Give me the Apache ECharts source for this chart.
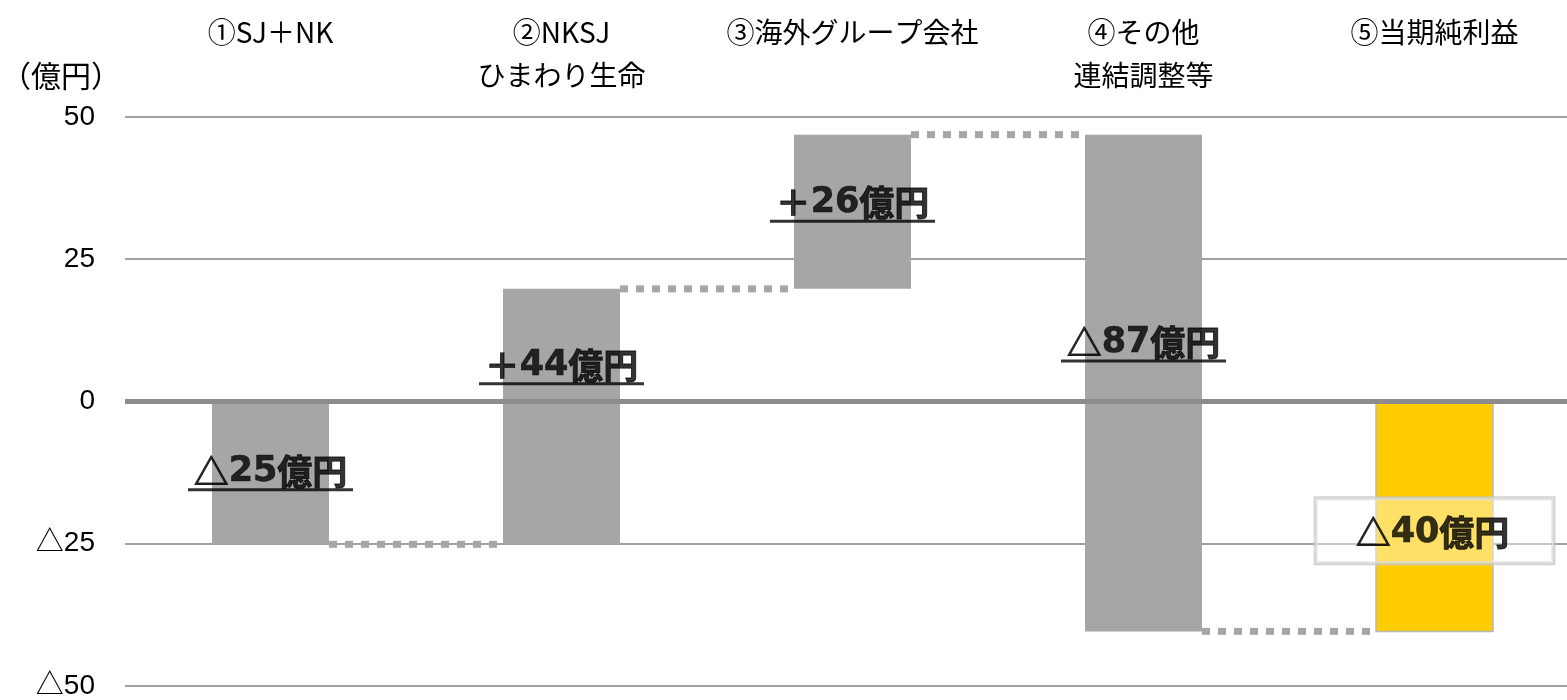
<!DOCTYPE html>
<html>
<head>
<meta charset="utf-8">
<script src="https://cdn.jsdelivr.net/npm/echarts@6/dist/echarts.min.js"></script>
<style>
html,body{margin:0;padding:0;background:#fff;overflow:hidden;width:1567px;height:700px;}
#chart{width:1580px;height:700px;}
</style>
</head>
<body>
<div id="chart"></div>
<script>
// ---- data ----
const categories = ['①SJ＋NK', '②NKSJ\nひまわり生命', '③海外グループ会社', '④その他\n連結調整等', '⑤当期純利益'];
const changes = [-25.1, 44.9, 27.1, -87.3];          // step changes (億円)
const totalValue = -40.4;                              // ⑤ 当期純利益
const valueLabels = ['△25億円', '＋44億円', '＋26億円', '△87億円', '△40億円'];
const labelAnchors = [-12.6, 6.0, 34.6, 10.0, -22.7];  // label centre level (億円)
const yTicks = { min: -50, max: 50, interval: 25 };

// ---- build ranges ----
const ranges = [];
let cum = 0;
changes.forEach((d, i) => {
  const start = cum;
  cum = +(cum + d).toFixed(1);
  ranges.push([i, start, cum]);
});
ranges.push([changes.length, 0, totalValue]);

const chart = echarts.init(document.getElementById('chart'));
const CJK = '"Noto Sans CJK JP"';

function richText(s) {
  // digits in a wide latin face, the rest in the CJK face
  let out = '', cur = '', type = null;
  for (const ch of s) {
    const t = /[0-9]/.test(ch) ? 'd' : 'k';
    if (t !== type && cur) { out += '{' + type + '|' + cur + '}'; cur = ''; }
    type = t; cur += ch;
  }
  if (cur) out += '{' + type + '|' + cur + '}';
  return out;
}

function renderItem(params, api) {
  const i = api.value(0);
  const a = api.value(1), b = api.value(2);
  const p1 = api.coord([i, a]);
  const p2 = api.coord([i, b]);
  const band = api.size([1, 0])[0];
  const w = band * 0.402;
  const x = p1[0] - w / 2;
  const top = Math.min(p1[1], p2[1]);
  const h = Math.abs(p1[1] - p2[1]);
  const isTotal = i === categories.length - 1;
  const children = [{
    type: 'rect',
    shape: { x: x, y: top, width: w, height: h },
    style: isTotal ? { fill: '#ffcc00', stroke: '#b8b8b8', lineWidth: 1.5 }
                   : { fill: '#a6a6a6' }
  }];
  if (!isTotal) {
    const y = p2[1];
    children.push({
      type: 'line',
      shape: { x1: x + w, y1: y, x2: x + band, y2: y },
      style: { stroke: '#a6a6a6', lineWidth: 7, lineDash: [8, 8], lineCap: 'butt' }
    });
  }
  return { type: 'group', children: children };
}

const FS = 35;
const richStyles = {
  k: { fontSize: FS, fontWeight: 'bold', color: '#000', lineHeight: 33, fontFamily: CJK,
       textBorderColor: '#000', textBorderWidth: 0.9 },
  d: { fontSize: FS, fontWeight: 'bold', color: '#000', lineHeight: 33, fontFamily: '"DejaVu Sans"',
       textBorderColor: '#000', textBorderWidth: 0.6 },
  u: { width: 165, height: 3, lineHeight: 3, backgroundColor: '#000', align: 'center' }
};

const labelData = labelAnchors.map((v, i) => {
  const last = i === categories.length - 1;
  return {
    value: [i, v],
    label: last ? {
      formatter: richText(valueLabels[i]),
      backgroundColor: 'rgba(255,255,255,0.5)',
      borderColor: '#c8c8c8', borderWidth: 2,
      padding: [18, 44, 14, 40]
    } : {
      formatter: richText(valueLabels[i]) + '\n{u|}'
    }
  };
});

const option = {
  animation: false,
  backgroundColor: '#fff',
  title: {
    text: '（億円）', left: -4, top: 56,
    textStyle: { fontSize: 30, fontWeight: 'normal', color: '#000', fontFamily: CJK }
  },
  grid: { left: 125, top: 117, width: 1455, height: 569 },
  xAxis: {
    type: 'category', position: 'top', data: categories,
    axisLine: { show: false }, axisTick: { show: false },
    axisLabel: {
      interval: 0, fontSize: 28, color: '#000', lineHeight: 43,
      verticalAlign: 'top', margin: 106, fontFamily: CJK
    },
    splitLine: { show: false }
  },
  yAxis: {
    type: 'value', min: yTicks.min, max: yTicks.max, interval: yTicks.interval,
    axisLine: { show: false }, axisTick: { show: false },
    axisLabel: {
      fontSize: 28, color: '#000', margin: 30,
      fontFamily: '"Liberation Sans", ' + CJK,
      formatter: v => v < 0 ? '△' + (-v) : String(v)
    },
    splitLine: { lineStyle: { color: '#a0a0a0', width: 2 } }
  },
  series: [
    {
      type: 'line', data: [], z: 1, silent: true,
      markLine: {
        silent: true, symbol: 'none', label: { show: false },
        lineStyle: { color: '#8c8c8c', width: 5, type: 'solid' },
        data: [{ yAxis: 0 }]
      }
    },
    {
      type: 'custom', renderItem: renderItem, data: ranges, z: 2,
      encode: { x: 0, y: [1, 2] }, clip: false
    },
    {
      type: 'scatter', symbolSize: 0, z: 5, silent: true,
      data: labelData,
      label: {
        show: true, position: 'inside', align: 'center', color: '#000',
        rich: richStyles
      }
    }
  ]
};
chart.setOption(option);
</script>
</body>
</html>
